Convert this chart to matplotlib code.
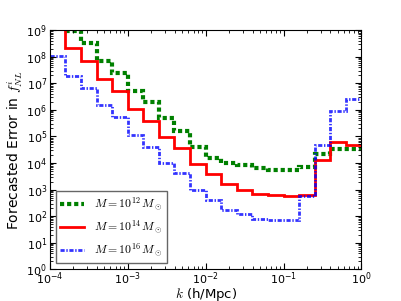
import numpy as np
import matplotlib
matplotlib.use("Agg")
import matplotlib.pyplot as plt

plt.rcParams['mathtext.fontset'] = 'cm'
plt.rcParams['mathtext.rm'] = 'DejaVu Sans'

# bin edges in log10(k), 0.2 dex wide
log_edges = [-4.0, -3.8, -3.6, -3.4, -3.2, -3.0, -2.8, -2.6, -2.4, -2.2, -2.0,
             -1.8, -1.6, -1.4, -1.2, -1.0, -0.8, -0.6, -0.4, -0.2, 0.0]

# log10 of forecasted error per bin
err_m12 = [10.0, 8.96, 8.5, 7.85, 7.4, 6.71, 6.28, 5.68, 5.22, 4.62,
           4.2, 4.0, 3.92, 3.8, 3.75, 3.75, 3.85, 4.35, 4.54, 4.53]
err_m14 = [9.6, 8.31, 7.82, 7.15, 6.7, 6.02, 5.6, 4.97, 4.57, 3.96,
           3.6, 3.22, 2.97, 2.84, 2.78, 2.75, 2.78, 4.12, 4.79, 4.66]
err_m16 = [8.02, 7.29, 6.83, 6.17, 5.74, 5.06, 4.61, 4.02, 3.62, 3.0,
           2.6, 2.22, 2.07, 1.9, 1.84, 1.84, 2.76, 4.69, 5.96, 6.4]

labels = [r'$M=10^{12}\,M_\odot$', r'$M=10^{14}\,M_\odot$', r'$M=10^{16}\,M_\odot$']

edges = 10.0 ** np.array(log_edges)

fig = plt.figure(figsize=(4.02, 3.01), dpi=100)
ax = fig.add_axes([0.124, 0.105, 0.775, 0.795])

ax.stairs(10.0 ** np.array(err_m12), edges, color='g', lw=3, linestyle=(0, (1, 0.7)),
          baseline=None, label=labels[0])
ax.stairs(10.0 ** np.array(err_m14), edges, color='r', lw=2, linestyle='-',
          baseline=None, label=labels[1])
ax.stairs(10.0 ** np.array(err_m16), edges, color='b', lw=2, linestyle=(0, (1.5, 0.6, 0.5, 0.6)),
          baseline=None, label=labels[2], alpha=0.8)

ax.set_xscale('log')
ax.set_yscale('log')
ax.set_xlim(1e-4, 1)
ax.set_ylim(1, 1e9)
ax.set_yticks(10.0 ** np.arange(0, 10))
ax.tick_params(which='both', direction='in', top=True, right=True, labelsize=8)
ax.tick_params(which='major', length=4, pad=2)
ax.tick_params(axis='x', which='major', pad=1)
ax.tick_params(which='minor', length=2)

ax.set_xlabel(r'$k$ (h/Mpc)', fontsize=9.5, labelpad=-1)
ax.set_ylabel(r'Forecasted Error in $f_{NL}^i$', fontsize=10, labelpad=1)

leg = ax.legend(loc='lower left', fontsize=8.5, fancybox=False, handlelength=2.0,
                borderaxespad=0.5, framealpha=1, labelspacing=0.45)
leg.get_frame().set_edgecolor('0.4')

fig.savefig('out.png', dpi=100)
